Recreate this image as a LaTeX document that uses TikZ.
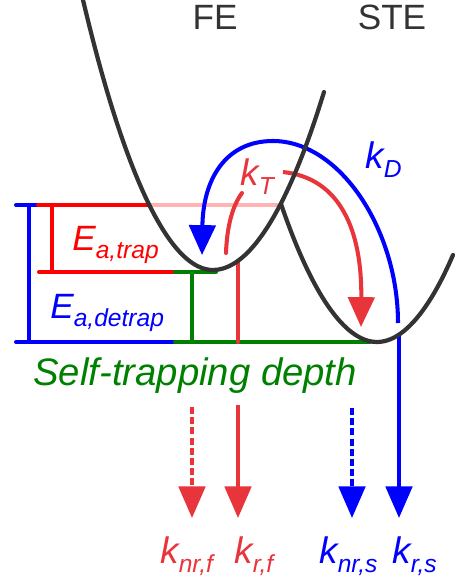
\documentclass[tikz,border=0pt]{standalone}
\usepackage{fontspec}
\setmainfont{Liberation Sans}
\usetikzlibrary{arrows.meta,positioning}
\definecolor{ink}{HTML}{333333}
\definecolor{cobalt}{HTML}{0000FF}
\definecolor{scarlet}{HTML}{FF0000}
\definecolor{coral}{HTML}{E8343B}
\definecolor{blush}{HTML}{FFB3B3}
\definecolor{forest}{HTML}{008000}
\newcommand{\subidx}[1]{\raisebox{-.25em}{\fontsize{14}{14}\selectfont #1}}
\tikzset{
  well/.style={draw=ink, line width=2.4pt, line cap=round},
  level/.style={line width=2.3pt, line cap=round},
  hop/.style={line width=2.3pt, -{Triangle[length=17pt, width=15pt]}},
  decay/.style={line width=2.3pt, -{Triangle[length=18pt, width=15pt]}},
  nonrad/.style={decay, dash pattern=on 4pt off 1.8pt},
  title/.style={font=\fontsize{20}{24}\selectfont, text=ink, inner sep=0pt, anchor=base},
  rate/.style={font=\fontsize{21}{25}\selectfont\itshape, inner sep=0pt, anchor=base west},
  barrier/.style={font=\fontsize{20}{24}\selectfont\itshape, inner sep=0pt, anchor=base west}
}
\begin{document}
\begin{tikzpicture}[x=0.02cm, y=-0.02cm]
 \useasboundingbox (0,0) rectangle (460,581);
 % energy levels
 \draw[level, cobalt] (16,205) -- (38,205);
 \draw[level, scarlet] (38,205) -- (150,205);
 \draw[level, blush] (150,205) -- (280,205);
 \draw[level, cobalt] (29,205) -- (29,342);
 \draw[level, scarlet] (52,205) -- (52,272);
 \draw[level, scarlet] (39,272) -- (175,272);
 \draw[level, forest] (175,272) -- (216,272);
 \draw[level, forest] (192,272) -- (192,342);
 \draw[level, cobalt] (16,342) -- (175,342);
 \draw[level, forest] (175,342) -- (370,342);
 \draw[level, coral] (238,261) -- (238,342);
 % transfer arrows
 \coordinate (steD) at (398,323);
 \coordinate (feD) at (202,255);
 \coordinate (feT) at (226,253);
 \coordinate (midT) at (242,193);
 \coordinate (restT) at (283,172);
 \coordinate (steT) at (361,327);
 \draw[hop, cobalt] (steD) .. controls (398,230) and (340,141) .. (273,141) .. controls (225,141) and (203,180) .. (feD);
 \draw[level, coral] (feT) .. controls (227,225) and (233,205) .. (midT);
 \draw[hop, coral] (restT) .. controls (340,178) and (362,230) .. (steT);
 % decay channels
 \coordinate (nrfTop) at (192,407); \coordinate (nrfEnd) at (192,518);
 \coordinate (rfTop) at (238,405);  \coordinate (rfEnd) at (238,518);
 \coordinate (nrsTop) at (352,408); \coordinate (nrsEnd) at (352,518);
 \coordinate (rsTop) at (399,335);  \coordinate (rsEnd) at (399,518);
 \draw[nonrad, coral] (nrfTop) -- (nrfEnd);
 \draw[decay, coral] (rfTop) -- (rfEnd);
 \draw[nonrad, cobalt] (nrsTop) -- (nrsEnd);
 \draw[decay, cobalt] (rsTop) -- (rsEnd);
 % potential wells
 \draw[well] (83,0) parabola bend (213,270) (324,92);
 \draw[well] (281,204) parabola bend (377,342) (453,255);
 % labels
 \node[title] (fe) at (215,30) {FE};
 \node[title] (ste) at (392,30) {STE};
 \node[rate, text=cobalt] (kd) at (365,168) {k\subidx{D}};
 \node[rate, text=coral] (kt) at (240,185) {k\subidx{T}};
 \node[barrier, text=scarlet] (etrap) at (72,250) {E\subidx{a,trap}};
 \node[barrier, text=cobalt] (edetrap) at (50,318) {E\subidx{a,detrap}};
 \node[barrier, text=forest, font=\fontsize{21.8}{26}\selectfont\itshape] (depth) at (33,385) {Self-trapping depth};
 \node[rate, text=coral] (knrf) at (160,563) {k\subidx{nr,f}};
 \node[rate, text=coral] (krf) at (234,563) {k\subidx{r,f}};
 \node[rate, text=cobalt] (knrs) at (319,563) {k\subidx{nr,s}};
 \node[rate, text=cobalt] (krs) at (392,563) {k\subidx{r,s}};
\end{tikzpicture}
\end{document}
